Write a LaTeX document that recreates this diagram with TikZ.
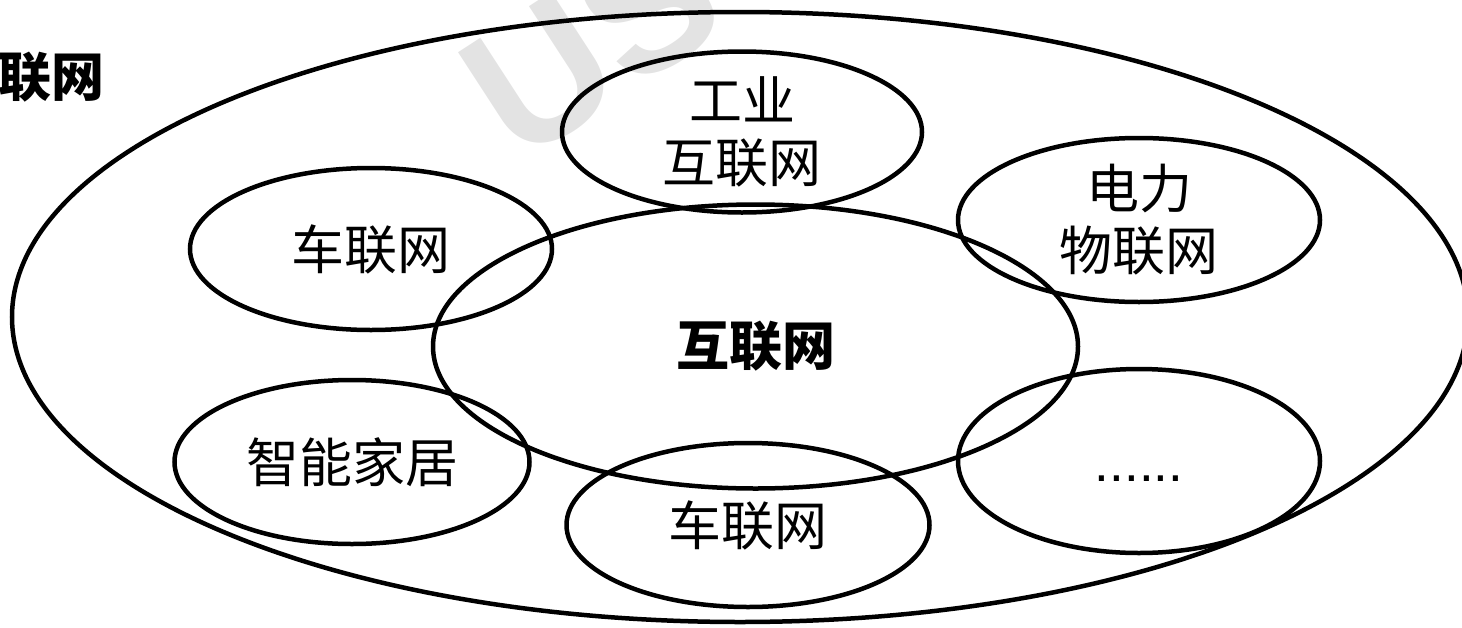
\documentclass[tikz,border=0pt]{standalone}
\usepackage{fontspec}
\setmainfont{Liberation Sans}
\newfontfamily\cjk{Noto Sans CJK SC}
\usetikzlibrary{shapes.geometric}
\tikzset{
  oval/.style={draw=black, line width=4.5pt, ellipse, inner sep=0pt, align=center,
    font=\cjk\fontsize{53}{62}\selectfont},
  title/.style={font=\cjk\bfseries\fontsize{53}{62}\selectfont, inner sep=0pt},
  wmark/.style={font=\bfseries\fontsize{185}{185}\selectfont, text=black!11, inner sep=0pt}
}
\begin{document}
\begin{tikzpicture}[x=1pt,y=-1pt]
\useasboundingbox (0,0) rectangle (1462,627);
\node[wmark, rotate=33] (wm) at (592,42) {US};
\node[oval, minimum width=1456pt, minimum height=610pt] (outer) at (740,317) {};
\node[oval, minimum width=360pt, minimum height=161pt] (gy) at (742,132) {工业\\互联网};
\node[oval, minimum width=362pt, minimum height=162pt] (clw1) at (371,249) {车联网};
\node[oval, minimum width=362pt, minimum height=164pt] (dl) at (1139,220) {电力\\物联网};
\node[oval, minimum width=645pt, minimum height=284pt] (hlw) at (755.5,346.5) {};
\node[title] (hlwt) at (hlw.center) {互联网};
\node[oval, minimum width=355pt, minimum height=164pt] (zn) at (352,462) {智能家居};
\node[oval, minimum width=363pt, minimum height=164pt] (clw2) at (748,525) {车联网};
\node[oval, minimum width=362pt, minimum height=184pt] (etc) at (1139,461) {};
\node[font=\fontsize{53}{62}\selectfont, inner sep=0pt, anchor=base] (etct) at (1139,481) {......};
\node[title, anchor=west] (tt) at (-55,77) {互联网};
\end{tikzpicture}
\end{document}
